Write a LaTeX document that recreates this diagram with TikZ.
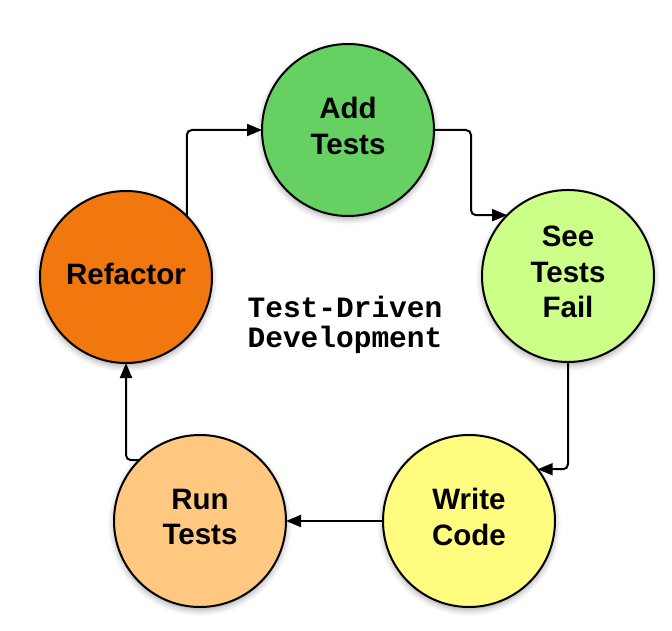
\documentclass[tikz,border=0pt]{standalone}
\usepackage{fontspec}
\setmainfont{Liberation Sans}
\setmonofont{Liberation Mono}
\usetikzlibrary{arrows.meta,shadows.blur}
\definecolor{addc}{RGB}{102,209,98}
\definecolor{failc}{RGB}{204,255,136}
\definecolor{writec}{RGB}{255,252,128}
\definecolor{runc}{RGB}{255,200,128}
\definecolor{refc}{RGB}{240,120,14}
\begin{document}
\begin{tikzpicture}[x=1pt,y=-1pt,
  stage/.style={circle, draw=black, line width=2pt, minimum size=172pt, inner sep=0pt, outer sep=0pt,
    blur shadow={shadow xshift=0pt, shadow yshift=-3pt, shadow blur radius=6pt, shadow opacity=35}},
  lbl/.style={align=center, inner sep=0pt, font=\fontsize{29.5}{35.5}\selectfont\bfseries},
  flow/.style={line width=2pt, rounded corners=5pt, -{Triangle[length=15pt,width=12pt]}}]
\useasboundingbox (0,0) rectangle (672,631);
\node[stage, fill=addc] (add) at (348,130) {};
\node[stage, fill=failc] (fail) at (568,276) {};
\node[stage, fill=writec] (write) at (469,521) {};
\node[stage, fill=runc] (run) at (200,521) {};
\node[stage, fill=refc] (ref) at (126,277) {};
\node[lbl] (addt) at ([yshift=4pt]add.center) {Add\\Tests};
\node[lbl] (failt) at ([yshift=4pt]fail.center) {See\\Tests\\Fail};
\node[lbl] (writet) at ([yshift=4pt]write.center) {Write\\Code};
\node[lbl] (runt) at ([yshift=4pt]run.center) {Run\\Tests};
\node[lbl] (reft) at ([yshift=3pt]ref.center) {Refactor};
\node[font=\fontsize{29.5}{30}\selectfont\ttfamily\bfseries, align=left] (title) at (345,325) {Test-Driven\\Development};
\draw[flow] (ref.45) |- (add.west);
\draw[flow] (add.east) -- ++(37,0) |- (fail.135);
\draw[flow] (fail.south) |- (write.37);
\draw[flow] (write.west) -- (run.east);
\draw[flow] (run.135) -| (ref.south);
\end{tikzpicture}
\end{document}
